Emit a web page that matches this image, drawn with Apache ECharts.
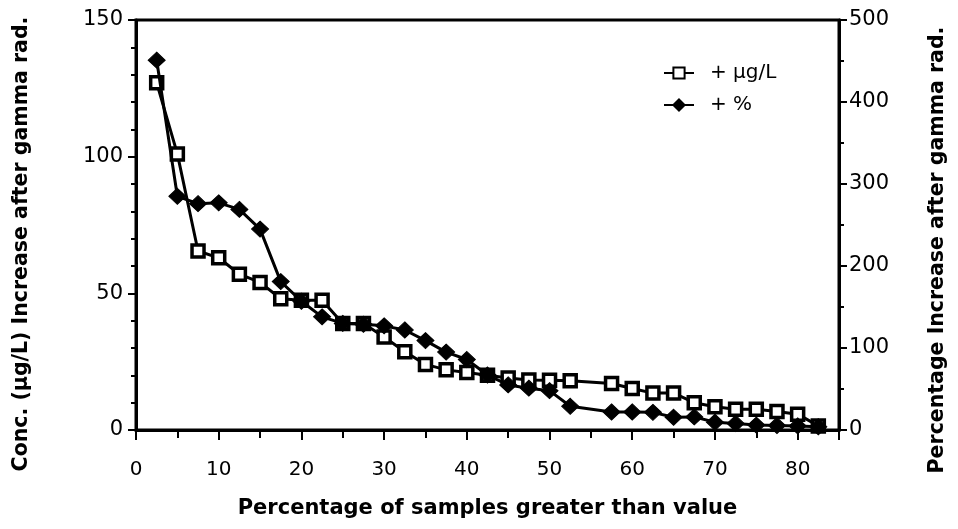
<!DOCTYPE html>
<html>
<head>
<meta charset="utf-8">
<script src="https://cdn.jsdelivr.net/npm/echarts@6/dist/echarts.min.js"></script>
<style>html,body{margin:0;padding:0;background:#fff}#c{width:958px;height:529px}</style>
</head>
<body>
<div id="c"></div>
<script>
// Percentage of samples greater than value (x)
const xConc = [2.5,5,7.5,10,12.5,15,17.5,20,22.5,25,27.5,30,32.5,35,37.5,40,42.5,45,47.5,50,52.5,57.5,60,62.5,65,67.5,70,72.5,75,77.5,80,82.5];
// + µg/L (left axis)
const concIncrease = [127,101,65.5,63,57,54,48,47.5,47.5,39,39,34,28.6,24,22,21,20,19,18.3,18.2,18,17,15.2,13.5,13.5,10,8.5,7.6,7.6,6.8,5.8,1.5];
// + % (right axis)
const pctIncrease = [451,285,276,277,269,245,181,157,138,130,129,127,122,109,95,86,67,55,51,48,29,22,22,21.5,15.5,16,9.5,8,6,5.5,5,4];

const xTicks = {min:0, max:85, interval:10};
const leftTicks = {min:0, max:150, interval:50};
const rightTicks = {min:0, max:500, interval:100};

const F = "'DejaVu Sans', Verdana, sans-serif";
const chart = echarts.init(document.getElementById('c'), null, {renderer:'canvas'});

const axisCommon = {
  axisLine:{show:true, onZero:false, lineStyle:{color:'#000', width:3}},
  axisTick:{show:true, inside:false, length:8, lineStyle:{color:'#000', width:2}},
  minorTick:{show:true, length:6, lineStyle:{color:'#000', width:2}},
  splitLine:{show:false}
};

chart.setOption({
  backgroundColor:'#fff',
  animation:false,
  grid:{left:136, right:119, top:20, bottom:99, show:true, borderColor:'#000', borderWidth:3, backgroundColor:'transparent'},
  legend:{
    orient:'vertical', left:658, top:58, itemWidth:30, itemHeight:14, itemGap:12,
    textStyle:{fontFamily:F, fontSize:20, color:'#000', padding:[0,0,0,11]},
    data:['+ µg/L','+ %']
  },
  xAxis:Object.assign({}, axisCommon, {
    type:'value', min:xTicks.min, max:xTicks.max, interval:xTicks.interval,
    axisTick:Object.assign({}, axisCommon.axisTick, {length:10}),
    minorTick:Object.assign({}, axisCommon.minorTick, {splitNumber:2, length:8}),
    axisLabel:{color:'#000', fontFamily:F, fontSize:20, margin:30, showMaxLabel:false},
    name:'Percentage of samples greater than value', nameLocation:'middle', nameGap:68,
    nameTextStyle:{fontFamily:F, fontSize:21, fontWeight:'bold', color:'#000'}
  }),
  yAxis:[
    Object.assign({}, axisCommon, {
      type:'value', position:'left', min:leftTicks.min, max:leftTicks.max, interval:leftTicks.interval,
      minorTick:Object.assign({}, axisCommon.minorTick, {splitNumber:5, length:5}),
      axisLabel:{color:'#000', fontFamily:F, fontSize:21, margin:13},
      name:'Conc. (µg/L) Increase after gamma rad.', nameLocation:'middle', nameGap:104,
      nameTextStyle:{fontFamily:F, fontSize:20.5, fontWeight:'bold', color:'#000', padding:[0,38,0,0]}
    }),
    Object.assign({}, axisCommon, {
      type:'value', position:'right', min:rightTicks.min, max:rightTicks.max, interval:rightTicks.interval,
      minorTick:Object.assign({}, axisCommon.minorTick, {splitNumber:2, length:5}),
      axisLabel:{color:'#000', fontFamily:F, fontSize:21, margin:10},
      name:'Percentage Increase after gamma rad.', nameLocation:'middle', nameGap:88,
      nameTextStyle:{fontFamily:F, fontSize:20.5, fontWeight:'bold', color:'#000', padding:[0,50,0,0]}
    })
  ],
  series:[
    {
      name:'+ µg/L', type:'line', yAxisIndex:0,
      data:xConc.map((x,i)=>[x, concIncrease[i]]),
      symbol:'rect', symbolSize:12,
      lineStyle:{color:'#000', width:3},
      itemStyle:{color:'#fff', borderColor:'#000', borderWidth:3.5},
      z:2
    },
    {
      name:'+ %', type:'line', yAxisIndex:1,
      data:xConc.map((x,i)=>[x, pctIncrease[i]]),
      symbol:'diamond', symbolSize:[17,16],
      lineStyle:{color:'#000', width:3},
      itemStyle:{color:'#000', borderColor:'#000', borderWidth:1},
      z:3
    }
  ]
});
</script>
</body>
</html>
